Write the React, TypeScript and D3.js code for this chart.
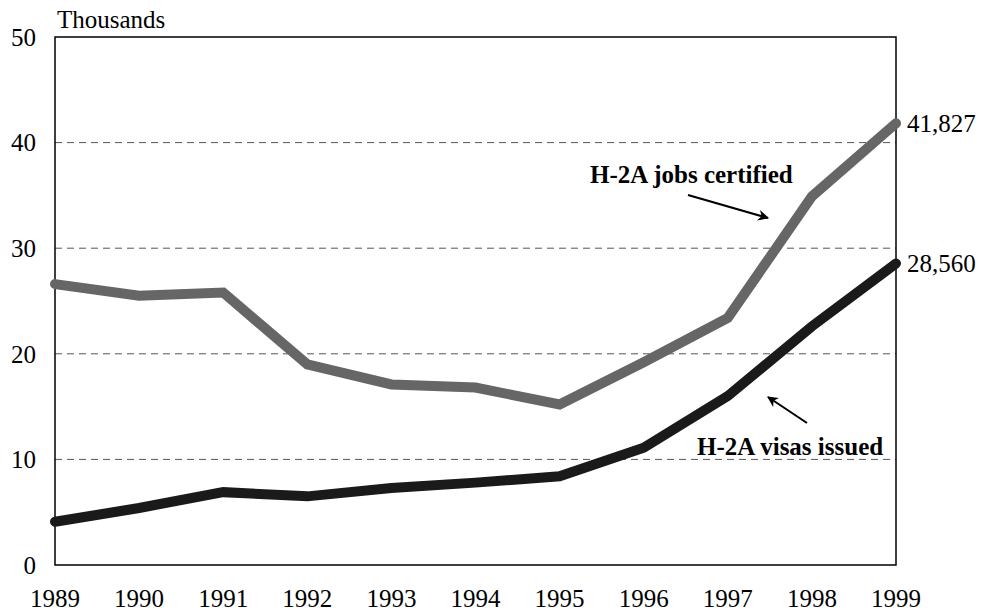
import React, { useEffect, useRef } from "react";
import * as d3 from "d3";

const years = [1989, 1990, 1991, 1992, 1993, 1994, 1995, 1996, 1997, 1998, 1999];
// thousands
const jobsCertified = [26.6, 25.5, 25.8, 19.0, 17.1, 16.8, 15.2, 19.2, 23.4, 34.9, 41.827];
const visasIssued = [4.1, 5.4, 6.9, 6.5, 7.3, 7.8, 8.4, 11.1, 16.0, 22.6, 28.56];
const yTicks = [0, 10, 20, 30, 40, 50];
const endLabels = ["41,827", "28,560"];

export default function App() {
  const ref = useRef<SVGSVGElement | null>(null);

  useEffect(() => {
    const width = 982;
    const height = 612;
    const margin = { top: 37, right: 86, bottom: 47, left: 55 };
    const font = "'Liberation Serif', 'Times New Roman', serif";

    const svg = d3.select(ref.current);
    svg.selectAll("*").remove();
    svg.attr("width", width).attr("height", height).style("font-family", font);

    const x = d3
      .scaleLinear()
      .domain([years[0], years[years.length - 1]])
      .range([margin.left, width - margin.right]);
    const y = d3
      .scaleLinear()
      .domain([0, 50])
      .range([height - margin.bottom, margin.top]);

    // dashed grid
    svg
      .append("g")
      .selectAll("line")
      .data(yTicks.filter((t) => t > 0 && t < 50))
      .join("line")
      .attr("x1", margin.left)
      .attr("x2", width - margin.right)
      .attr("y1", (d) => y(d))
      .attr("y2", (d) => y(d))
      .attr("stroke", "#555")
      .attr("stroke-width", 1)
      .attr("stroke-dasharray", "7,5");

    // frame
    svg
      .append("rect")
      .attr("x", margin.left)
      .attr("y", margin.top)
      .attr("width", width - margin.right - margin.left)
      .attr("height", height - margin.bottom - margin.top)
      .attr("fill", "none")
      .attr("stroke", "#000")
      .attr("stroke-width", 1.5);

    // y tick labels
    svg
      .append("g")
      .selectAll("text")
      .data(yTicks)
      .join("text")
      .attr("x", 36)
      .attr("y", (d) => y(d))
      .attr("dy", "0.35em")
      .attr("text-anchor", "end")
      .attr("font-size", 25)
      .text((d) => d);

    svg
      .append("text")
      .attr("x", 57)
      .attr("y", 28)
      .attr("font-size", 25)
      .text("Thousands");

    // x tick labels
    svg
      .append("g")
      .selectAll("text")
      .data(years)
      .join("text")
      .attr("x", (d) => x(d))
      .attr("y", 607)
      .attr("text-anchor", "middle")
      .attr("font-size", 25)
      .text((d) => d);

    const line = d3
      .line<number>()
      .x((_d, i) => x(years[i]))
      .y((d) => y(d));

    const series = [
      { values: jobsCertified, color: "#666666", label: endLabels[0] },
      { values: visasIssued, color: "#1a1a1a", label: endLabels[1] },
    ];

    svg
      .append("g")
      .selectAll("path")
      .data(series)
      .join("path")
      .attr("d", (d) => line(d.values))
      .attr("fill", "none")
      .attr("stroke", (d) => d.color)
      .attr("stroke-width", 10)
      .attr("stroke-linecap", "round")
      .attr("stroke-linejoin", "miter");

    svg
      .append("g")
      .selectAll("text")
      .data(series)
      .join("text")
      .attr("x", x(years[years.length - 1]) + 11)
      .attr("y", (d) => y(d.values[d.values.length - 1]))
      .attr("dy", "0.35em")
      .attr("font-size", 25)
      .text((d) => d.label);

    // arrow marker
    svg
      .append("defs")
      .append("marker")
      .attr("id", "arrowhead")
      .attr("viewBox", "0 0 10 10")
      .attr("refX", 9)
      .attr("refY", 5)
      .attr("markerWidth", 11)
      .attr("markerHeight", 11)
      .attr("markerUnits", "userSpaceOnUse")
      .attr("orient", "auto")
      .append("path")
      .attr("d", "M0,0 L10,5 L0,10 L3,5 Z")
      .attr("fill", "#000");

    const notes = [
      { text: "H-2A jobs certified", tx: 590, ty: 183, x1: 688, y1: 195, x2: 768, y2: 218 },
      { text: "H-2A visas issued", tx: 697, ty: 455, x1: 807, y1: 423, x2: 768, y2: 397 },
    ];

    svg
      .append("g")
      .selectAll("text")
      .data(notes)
      .join("text")
      .attr("x", (d) => d.tx)
      .attr("y", (d) => d.ty)
      .attr("font-size", 25)
      .attr("font-weight", "bold")
      .text((d) => d.text);

    svg
      .append("g")
      .selectAll("line")
      .data(notes)
      .join("line")
      .attr("x1", (d) => d.x1)
      .attr("y1", (d) => d.y1)
      .attr("x2", (d) => d.x2)
      .attr("y2", (d) => d.y2)
      .attr("stroke", "#000")
      .attr("stroke-width", 2)
      .attr("marker-end", "url(#arrowhead)");
  }, []);

  return (
    <div style={{ position: "fixed", left: 0, top: 0, background: "#fff" }}>
      <svg ref={ref}></svg>
    </div>
  );
}
